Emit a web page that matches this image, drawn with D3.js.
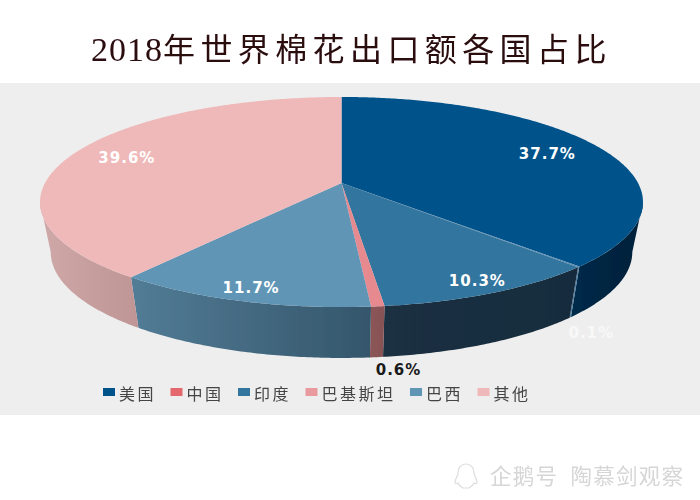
<!DOCTYPE html>
<html>
<head>
<meta charset="utf-8">
<script src="https://cdn.jsdelivr.net/npm/d3@7"></script>
<style>
	html, body { margin: 0; padding: 0; background: #fff; }
	svg { display: block; }
</style>
</head>
<body>
<svg id="chart" width="700" height="500"></svg>
<script>
// Values.
const countries = ['美国', '中国', '印度', '巴基斯坦', '巴西', '其他']
const shares = [37.7, 0.1, 10.3, 0.6, 11.7, 39.6]
const shareLabels = ['37.7%', '0.1%', '10.3%', '0.6%', '11.7%', '39.6%']

// Colours: legend, top face, and the side wall (left and right of its gradient).
const legendColors = ['#01538a', '#e4686d', '#33749e', '#e99a9e', '#6195b6', '#efb9ba']
const topColors = ['#01538a', '#5a8bb0', '#33749e', '#e68a8f', '#6195b6', '#efb9ba']
const wallLeft = ['#002a49', '#4f80a5', '#1a3042', '#8c5558', '#527c96', '#cfa8a8']
const wallRight = ['#00203a', '#4f80a5', '#182c3c', '#875254', '#34566b', '#bf9595']

// Label placement: share of the radius on the top face, or offset from the bottom rim.
const labelRadius = [0.79, null, 0.91, null, 0.91, 0.8]
const labelOffset = [null, [21, 16], null, [22, 13], null, null]
const labelColors = ['#fff', '#f8f8f8', '#fff', '#1a1a1a', '#fff', '#fff']

const svg = d3.select('#chart')
const defs = svg.append('defs')

defs.append('filter').attr('id', 'soft')
	.append('feGaussianBlur').attr('stdDeviation', 0.45)

// Panel behind the chart.
svg.append('rect')
	.attr('x', 0).attr('y', 83)
	.attr('width', 700).attr('height', 332)
	.attr('fill', '#eeeeee')

// Title: digits sit tight, the Chinese characters are spaced out.
const title = svg.append('text')
	.attr('x', 91).attr('y', 61)
	.attr('fill', '#2a0a10')
	.attr('filter', 'url(#soft)')
title.append('tspan')
	.attr('font-family', '"Liberation Serif", serif')
	.attr('font-size', 34)
	.attr('letter-spacing', 1)
	.text('2018')
title.append('tspan')
	.attr('font-family', '"Noto Sans CJK SC", sans-serif')
	.attr('font-size', 32)
	.attr('letter-spacing', 5.4)
	.text('年世界棉花出口额各国占比')

// The pie lies flat and is seen in perspective, so circle points go through this.
const tilt = 0.181
const topRim = { cx: 341.5, cy: 183, rx: 296.5, ry: 101.6 }
const bottomRim = { cx: 341.5, cy: 232.8, rx: 286, ry: 102.5 }

const project = (rim, angle, r = 1) => {
	const u = r * Math.sin(angle)
	const v = -r * Math.cos(angle)
	const w = 1 - tilt * v
	return [rim.cx + rim.rx * u / w, rim.cy + rim.ry * v / w]
}

const arcs = d3.pie().sort(null)(shares)
const line = d3.line()

const sample = (a0, a1) => {
	const n = Math.max(2, Math.ceil((a1 - a0) / 0.01))
	return d3.range(n + 1).map(i => a0 + (a1 - a0) * i / n)
}

const chart = svg.append('g').attr('filter', 'url(#soft)')

// Side walls run between the points where the rim turns back out of sight.
const wallStart = Math.acos(-tilt)
const wallEnd = Math.PI * 2 - wallStart

arcs.forEach((d, i) => {
	const a0 = Math.max(d.startAngle, wallStart)
	const a1 = Math.min(d.endAngle, wallEnd)
	if (a1 <= a0) return

	const angles = sample(a0, a1)
	const upper = angles.map(a => project(topRim, a))
	const lower = angles.map(a => project(bottomRim, a)).reverse()

	const xs = upper.concat(lower).map(p => p[0])
	const grad = defs.append('linearGradient')
		.attr('id', `wall${i}`)
		.attr('gradientUnits', 'userSpaceOnUse')
		.attr('x1', d3.min(xs)).attr('x2', d3.max(xs))
		.attr('y1', 0).attr('y2', 0)
	grad.append('stop').attr('offset', 0).attr('stop-color', wallLeft[i])
	grad.append('stop').attr('offset', 1).attr('stop-color', wallRight[i])

	chart.append('path')
		.attr('d', line(upper.concat(lower)) + 'Z')
		.attr('fill', `url(#wall${i})`)
})

// Top face.
chart.selectAll('path.slice')
	.data(arcs)
	.enter().append('path')
	.attr('class', 'slice')
	.attr('fill', (d, i) => topColors[i])
	.attr('d', d => {
		const rim = sample(d.startAngle, d.endAngle).map(a => project(topRim, a))
		return line([[topRim.cx, topRim.cy]].concat(rim)) + 'Z'
	})

// Share labels.
svg.append('g')
	.selectAll('text')
	.data(arcs)
	.enter().append('text')
	.attr('text-anchor', 'middle')
	.attr('dominant-baseline', 'central')
	.attr('font-family', '"DejaVu Sans", sans-serif')
	.attr('font-weight', 'bold')
	.attr('font-size', 15)
	.attr('letter-spacing', 1)
	.attr('fill', (d, i) => labelColors[i])
	.attr('transform', (d, i) => {
		const mid = (d.startAngle + d.endAngle) / 2
		let p
		if (labelRadius[i] !== null) {
			p = project(topRim, mid, labelRadius[i])
		} else {
			p = project(bottomRim, mid)
			p = [p[0] + labelOffset[i][0], p[1] + labelOffset[i][1]]
		}
		return `translate(${p[0]}, ${p[1]})`
	})
	.text((d, i) => shareLabels[i])

// Legend, laid out from the length of each name.
const charWidth = 18.5
let legendX = 103
const legend = svg.append('g').attr('filter', 'url(#soft)')
countries.forEach((name, i) => {
	legend.append('rect')
		.attr('x', legendX).attr('y', 388)
		.attr('width', 12).attr('height', 8)
		.attr('fill', legendColors[i])
	legend.append('text')
		.attr('x', legendX + 16).attr('y', 400)
		.attr('font-family', '"Noto Sans CJK SC", sans-serif')
		.attr('font-size', 16)
		.attr('letter-spacing', charWidth - 16)
		.attr('fill', '#444')
		.text(name)
	legendX += 16 + name.length * charWidth + 14.5
})

// Watermark.
const mark = svg.append('g').attr('fill', 'none').attr('filter', 'url(#soft)')
mark.append('path')
	.attr('d', 'M466 464c-5 0-8 4-8 9 0 3-3 6-3 9 0 2 1 2 3 1 1 3 3 4 5 5h6c2-1 4-2 5-5 2 1 3 1 3-1 0-3-3-6-3-9 0-5-3-9-8-9Z')
	.attr('stroke', '#dcdcdc')
	.attr('stroke-width', 1.2)
const markText = mark.append('text')
	.attr('x', 490).attr('y', 484)
	.attr('font-family', '"Noto Sans CJK SC", sans-serif')
	.attr('font-size', 21.5)
	.attr('letter-spacing', 1.3)
	.attr('fill', '#d6d6d6')
markText.append('tspan').text('企鹅号')
markText.append('tspan').attr('dx', 12).text('陶慕剑观察')
</script>
</body>
</html>
